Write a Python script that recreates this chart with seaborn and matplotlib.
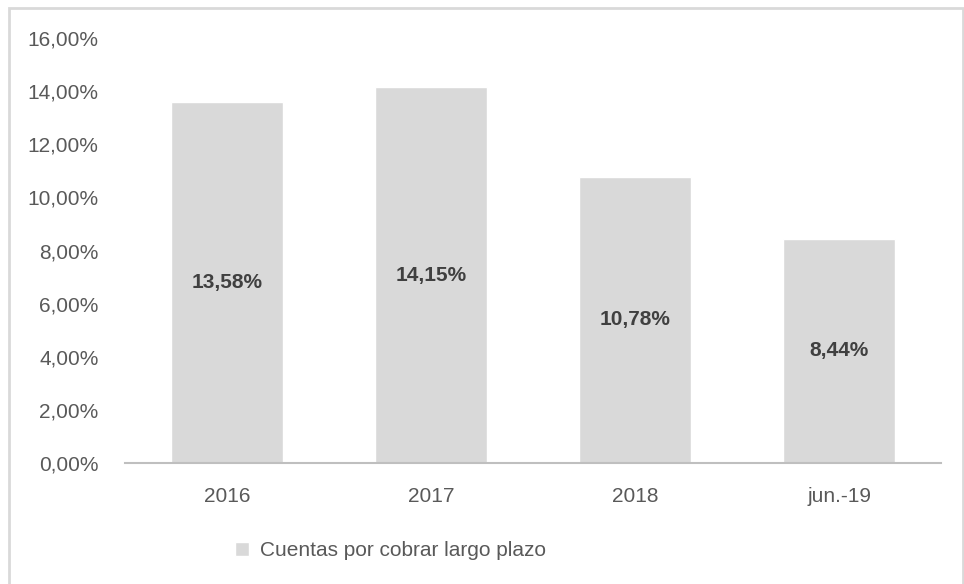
import numpy as np
import pandas as pd
import matplotlib
matplotlib.use('Agg')
import matplotlib.pyplot as plt
import seaborn as sns
from matplotlib.patches import Rectangle

categories = ['2016', '2017', '2018', 'jun.-19']
values = [13.58, 14.15, 10.78, 8.44]
series_name = 'Cuentas por cobrar largo plazo'
y_ticks = [0, 2, 4, 6, 8, 10, 12, 14, 16]

sns.set_style('white')
plt.rcParams['font.family'] = ['Liberation Sans', 'DejaVu Sans']

bar_color = '#D9D9D9'
text_color = '#595959'

df = pd.DataFrame({'periodo': categories, 'valor': values, 'serie': series_name})

fig = plt.figure(figsize=(9.64, 5.84), dpi=100)
ax = fig.add_axes([0.1297, 0.2072, 0.8465, 0.7277])

sns.barplot(data=df, x='periodo', y='valor', hue='serie', palette=[bar_color],
            width=0.55, ax=ax, legend=True, saturation=1)

ax.set_xlim(-0.5, 3.5)
ax.set_ylim(0, 16)
ax.set_yticks(y_ticks)
ax.set_yticklabels([f'{t:.2f}%'.replace('.', ',') for t in y_ticks])
ax.tick_params(axis='both', labelsize=15, colors=text_color, length=0)
ax.tick_params(axis='x', pad=17)
ax.tick_params(axis='y', pad=19)
ax.set_xlabel('')
ax.set_ylabel('')

for side in ['top', 'right', 'left']:
    ax.spines[side].set_visible(False)
ax.spines['bottom'].set_color('#BFBFBF')
ax.spines['bottom'].set_linewidth(1.5)

for container in ax.containers:
    ax.bar_label(container, labels=[f'{v:.2f}%'.replace('.', ',') for v in values],
                 label_type='center', fontsize=15, fontweight='bold', color='#404040')

ax.legend(loc='upper center', bbox_to_anchor=(0.325, -0.14), frameon=False,
          fontsize=15, labelcolor=text_color, handlelength=0.7, handleheight=0.7,
          handletextpad=0.5)

fig.patches.append(Rectangle((9 / 964, -0.01), 954 / 964, 1 - 8 / 584 + 0.01,
                             transform=fig.transFigure, fill=False,
                             edgecolor='#D9D9D9', linewidth=2))

fig.savefig('out.png', dpi=100)
